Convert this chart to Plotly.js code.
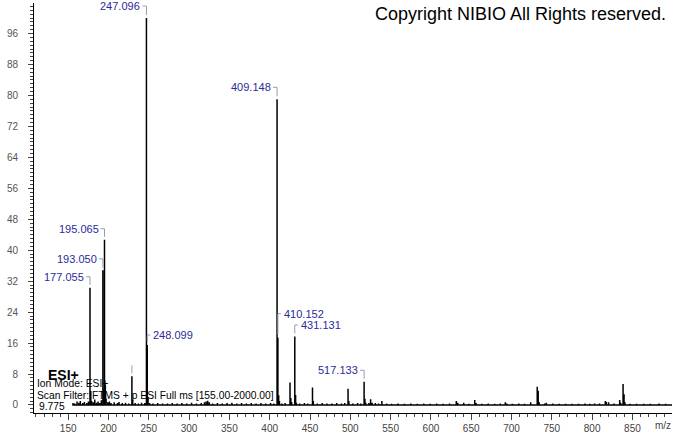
<!DOCTYPE html>
<html><head><meta charset="utf-8">
<script src="https://cdn.plot.ly/plotly-3.0.1.min.js"></script>
<style>html,body{margin:0;padding:0;background:#fff}#chart{width:673px;height:433px}</style>
</head><body><div id="chart"></div>
<script>
// ---- data ----
const peakMz = [156.0,158.1,161.0,163.1,165.1,168.0,170.1,173.0,175.1,177.055,178.06,179.07,181.1,183.0,185.1,187.1,189.1,191.1,193.050,194.05,195.065,196.07,197.07,199.1,201.1,203.1,207.1,211.1,213.1,217.1,221.1,225.1,229.06,230.06,233.1,237.1,241.1,245.1,247.096,248.099,249.10,251.1,255.1,261.1,267.1,273.1,279.1,285.1,291.1,297.1,303.1,309.1,315.1,319.1,321.1,323.1,325.1,329.1,335.1,341.1,347.1,353.1,359.1,365.1,371.1,377.1,383.1,389.1,395.1,401.1,405.1,409.148,410.152,411.15,412.1,415.1,419.1,425.2,426.2,427.2,431.131,432.13,433.1,437.1,443.1,447.1,453.1,454.1,459.1,465.1,471.1,477.1,483.1,489.1,493.1,497.2,498.2,503.1,509.1,513.1,517.133,518.14,519.1,523.1,525.2,527.1,531.1,535.1,539.2,545.1,551.1,559.1,567.1,575.1,583.1,591.1,599.1,607.1,615.1,623.1,631.5,633.3,640.7,647.1,654.4,656.0,663.1,671.1,679.1,686.1,692.3,694.0,701.1,709.1,716.1,723.8,731.9,733.1,734.2,741.1,743.2,751.1,759.1,767.1,775.1,783.1,791.1,797.1,803.1,809.1,816.4,817.6,820.4,827.1,834.2,835.5,838.4,839.6,840.7,847.1,855.1,864.1,872.1,883.0,891.1];
const peakIntensity = [0.5,0.4,0.9,0.6,1.0,0.5,0.8,0.5,0.9,30.3,3.6,1.0,0.7,1.4,0.6,0.9,0.5,1.2,34.8,4.2,42.7,5.2,1.6,0.7,0.9,0.5,0.7,0.5,0.8,0.5,0.6,0.4,7.4,1.2,0.5,0.4,0.6,0.5,100,15.5,2.0,0.5,0.4,0.5,0.4,0.4,0.5,0.4,0.5,0.4,0.6,0.4,0.5,0.7,0.9,1.1,0.7,0.4,0.5,0.4,0.5,0.6,0.4,0.5,0.4,0.5,0.4,0.5,0.4,0.5,0.4,79.0,17.4,2.5,1.0,0.4,0.5,5.8,1.8,0.8,17.7,2.6,0.6,0.4,0.5,0.4,4.5,1.0,0.4,0.5,0.4,0.4,0.5,0.4,0.5,4.2,1.0,0.4,0.5,0.4,6.0,1.6,0.6,0.5,1.5,0.6,0.5,0.4,1.0,0.4,0.3,0.4,0.3,0.4,0.3,0.4,0.3,0.4,0.3,0.4,1.0,0.6,0.6,0.3,1.3,0.5,0.3,0.4,0.3,0.4,0.7,0.4,0.3,0.4,0.3,0.7,4.7,3.7,0.8,0.4,0.6,0.4,0.3,0.3,0.3,0.3,0.4,0.3,0.4,0.4,1.0,0.8,0.7,0.4,1.3,0.6,5.4,2.8,0.7,0.3,0.3,0.3,0.3,0.4,0.3];
const scanStart = 155.0, scanEnd = 900.0;
const labelledPeaks = ['177.055','193.050','195.065','247.096','248.099','409.148','410.152','431.131','517.133'];
const unlabelledMarkedPeaks = [229.06];
const yTickValues = [0,8,16,24,32,40,48,56,64,72,80,88,96];
const xTickValues = [150,200,250,300,350,400,450,500,550,600,650,700,750,800,850];

// ---- label placement (style only) ----
const labelPlacement = {
  '177.055':{side:'left',lift:11}, '193.050':{side:'left',lift:11.5}, '195.065':{side:'left',lift:11},
  '247.096':{side:'left',lift:12}, '248.099':{side:'right',lift:10}, '409.148':{side:'left',lift:12},
  '410.152':{side:'right',lift:24}, '431.131':{side:'right',lift:11.5}, '517.133':{side:'left',lift:11.5}
};

const FONT = 'Liberation Sans, Arial, sans-serif';
// build stick spectrum from the arrays
const xs = [scanStart], ys = [0];
peakMz.forEach((m,i)=>{ xs.push(m,m,m); ys.push(0,peakIntensity[i],0); });
xs.push(scanEnd); ys.push(0);

const annotations = [], shapes = [];
labelledPeaks.forEach(t=>{
  const m = parseFloat(t);
  let idx = 0, best = 1e9;
  peakMz.forEach((v,i)=>{ if(Math.abs(v-m)<best){best=Math.abs(v-m); idx=i;} });
  const h = peakIntensity[idx], p = labelPlacement[t];
  const left = p.side==='left';
  annotations.push({x:peakMz[idx], y:h, xref:'x', yref:'y', text:t, showarrow:false,
    xanchor: left?'right':'left', yanchor:'middle', xshift: left?-5:5, yshift:p.lift,
    font:{family:FONT,size:11,color:'#2b2b98'}, borderpad:0});
  shapes.push({type:'path', xref:'x', yref:'y', xsizemode:'pixel', ysizemode:'pixel',
    xanchor:peakMz[idx], yanchor:h,
    path: left ? `M-4,${p.lift} L0,${p.lift} L0,3` : `M0,3 L0,${p.lift} L3,${p.lift}`,
    line:{color:'#9a9ab4', width:1}});
});
unlabelledMarkedPeaks.forEach(m=>{
  let idx=0,best=1e9; peakMz.forEach((v,i)=>{ if(Math.abs(v-m)<best){best=Math.abs(v-m); idx=i;} });
  shapes.push({type:'path', xref:'x', yref:'y', xsizemode:'pixel', ysizemode:'pixel',
    xanchor:peakMz[idx], yanchor:peakIntensity[idx], path:'M0,3 L0,11', line:{color:'#9a9ab4', width:1}});
});

const txt = (text,x,y,xa,size,color,extra)=>Object.assign({text,x,y,xref:'paper',yref:'paper',xanchor:xa,yanchor:'middle',showarrow:false,borderpad:0,font:{family:FONT,size,color}},extra||{});
annotations.push(txt('Copyright NIBIO All Rights reserved.',0.992,0.973,'right',18,'#000'));
annotations.push(txt('<b>ESI+</b>',0.0204,0.0935,'left',14,'#000'));
annotations.push(txt('Ion Mode: ESI+',0.003,0.0720,'left',10.3,'#000'));
annotations.push(txt('Scan Filter: FTMS + p ESI Full ms [155.00-2000.00]',0.003,0.0439,'left',10.3,'#000'));
annotations.push(txt('9.775',0.0063,0.0159,'left',10.3,'#000'));
annotations.push(txt('m/z',0.986,-0.0293,'center',10,'#444'));

const layout = {
  width:673, height:433, margin:{l:34,r:1,t:3,b:20},
  paper_bgcolor:'#fff', plot_bgcolor:'#fff', showlegend:false,
  font:{family:FONT,size:10,color:'#444'},
  xaxis:{range:[107.6,899.1], showgrid:false, zeroline:false, showline:true, linecolor:'#000', linewidth:1,
    tickmode:'array', tickvals:xTickValues, ticktext:xTickValues.map(String), ticks:'outside', ticklen:6, tickcolor:'#444',
    minor:{dtick:10, ticks:'outside', ticklen:3, tickcolor:'#444', showgrid:false},
    tickfont:{family:FONT,size:10,color:'#444'}},
  yaxis:{range:[-2.07,103.9], showgrid:false, zeroline:false, showline:true, linecolor:'#000', linewidth:1,
    tickmode:'array', tickvals:yTickValues, ticktext:yTickValues.map(String), ticks:'outside', ticklen:5, tickcolor:'#444',
    minor:{dtick:1, ticks:'outside', ticklen:3, tickcolor:'#444', showgrid:false},
    ticklabelstandoff:8, tickfont:{family:FONT,size:10,color:'#555'}},
  annotations, shapes
};
Plotly.newPlot('chart',[{type:'scatter',mode:'lines',x:xs,y:ys,line:{color:'#000',width:1.5},hoverinfo:'skip'}],layout,{staticPlot:true,displayModeBar:false});
</script></body></html>
